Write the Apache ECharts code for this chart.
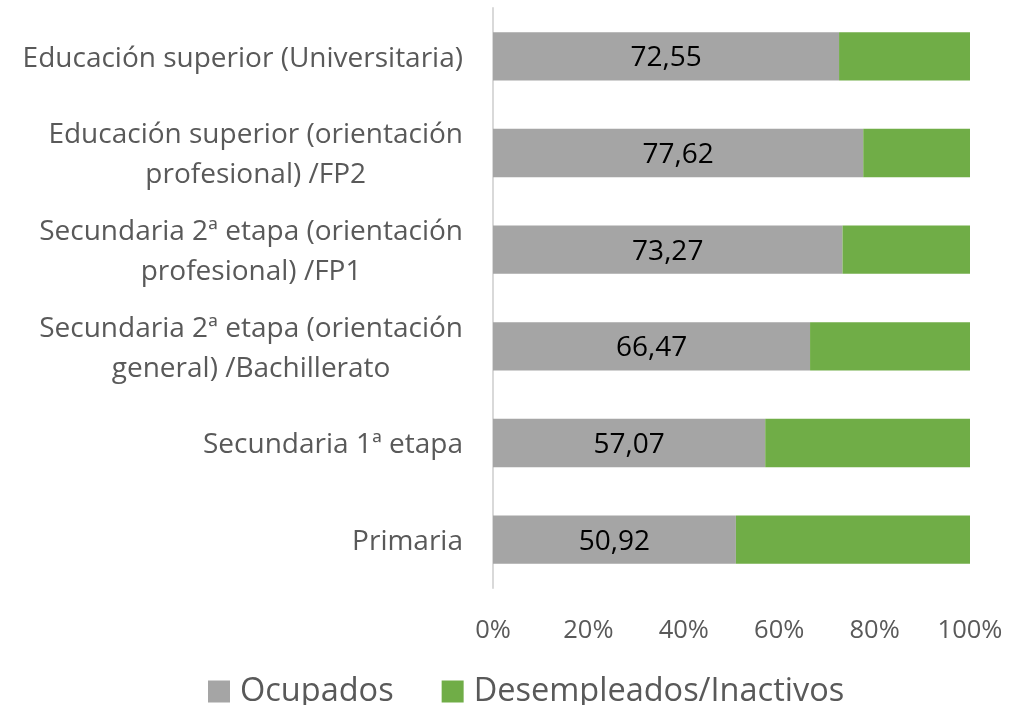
<!DOCTYPE html>
<html>
<head>
<meta charset="utf-8">
<script src="https://cdn.jsdelivr.net/npm/echarts@6/dist/echarts.min.js"></script>
<style>
  html, body { margin: 0; padding: 0; background: #fff; }
  #chart { width: 1019px; height: 705px; }
</style>
</head>
<body>
<div id="chart"></div>
<script>
// datos (de arriba a abajo)
var categorias = [
    'Educación superior (Universitaria)',
    'Educación superior (orientación\nprofesional) /FP2',
    'Secundaria 2ª etapa (orientación\nprofesional) /FP1',
    'Secundaria 2ª etapa (orientación\ngeneral) /Bachillerato',
    'Secundaria 1ª etapa',
    'Primaria'
];
var ocupados = [72.55, 77.62, 73.27, 66.47, 57.07, 50.92];
var desempleados = [27.45, 22.38, 26.73, 33.53, 42.93, 49.08];
var ticksX = [0, 20, 40, 60, 80, 100];

var fuente = '"Open Sans", sans-serif';
var myChart = echarts.init(document.getElementById('chart'));
myChart.setOption({
    animation: false,
    grid: {  // margenes
        left: 493,
        right: 49,
        top: 8,
        bottom: 117
    },
    legend: {
        top: 670,
        left: 203,
        icon: 'rect',
        itemWidth: 22,
        itemHeight: 22,
        itemGap: 48,
        textStyle: { fontFamily: fuente, fontSize: 32.5, color: '#595959', padding: [0, 0, 0, 5] },
        data: ['Ocupados', 'Desempleados/Inactivos']
    },
    xAxis: {
        type: 'value',
        min: ticksX[0],
        max: ticksX[ticksX.length - 1],
        interval: 20,
        splitLine: { show: false },
        axisLine: { show: false },
        axisTick: { show: false },
        axisLabel: {
            formatter: '{value}%',
            margin: 30,
            fontFamily: fuente,
            fontSize: 25.5,
            color: '#595959'
        }
    },
    yAxis: {
        type: 'category',
        inverse: true,
        data: categorias,
        axisLine: { show: true, lineStyle: { color: '#D9D9D9', width: 2 } },
        axisTick: { show: false },
        axisLabel: {
            margin: 30,
            align: 'right',
            lineHeight: 40,
            padding: [5, 0, 0, 0],
            fontFamily: fuente,
            fontSize: 28,
            color: '#595959',
            formatter: function (v) {  // lineas centradas entre si
                return v.split('\n').map(function (l) { return '{c|' + l + '}'; }).join('\n');
            },
            rich: {
                c: { align: 'center', fontFamily: fuente, fontSize: 28, lineHeight: 40, color: '#595959' }
            }
        }
    },
    series: [{
        name: 'Ocupados',
        type: 'bar',
        stack: 'total',
        barWidth: '50%',
        itemStyle: { color: '#A5A5A5' },
        label: {
            show: true,
            position: 'inside',
            offset: [0, 2],
            fontFamily: fuente,
            fontSize: 28,
            color: '#000',
            formatter: function (p) { return p.value.toFixed(2).replace('.', ','); }
        },
        data: ocupados
    }, {
        name: 'Desempleados/Inactivos',
        type: 'bar',
        stack: 'total',
        barWidth: '50%',
        itemStyle: { color: '#70AD47' },
        data: desempleados
    }]
});
</script>
</body>
</html>
